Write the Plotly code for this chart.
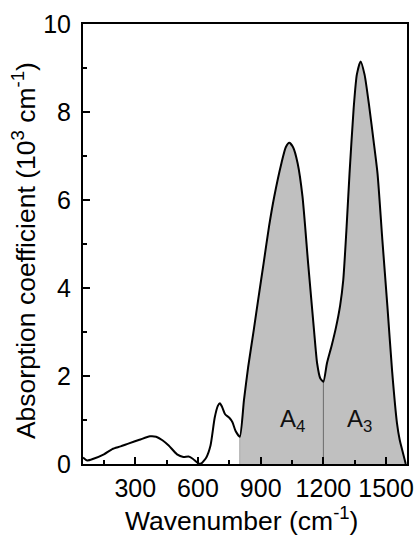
import plotly.graph_objects as go

wavenumber = [50, 70, 100, 150, 190, 230, 270, 320, 370, 400, 430, 460, 500, 530, 555, 575,
              600, 615, 640, 660, 680, 695, 705, 715, 730, 750, 765, 780, 800, 820, 840, 867,
              890, 914, 940, 965, 999, 1020, 1037, 1055, 1077, 1100, 1127, 1155, 1170, 1185,
              1200, 1217, 1240, 1260, 1280, 1295, 1310, 1325, 1345, 1360, 1378, 1397, 1420,
              1440, 1459, 1482, 1506, 1529, 1552, 1565, 1578, 1594]
absorption = [0.15, 0.08, 0.12, 0.22, 0.34, 0.40, 0.47, 0.55, 0.63, 0.62, 0.54, 0.42, 0.22,
              0.16, 0.17, 0.12, 0.02, 0.01, 0.15, 0.42, 1.05, 1.32, 1.38, 1.30, 1.13, 1.05,
              0.95, 0.75, 0.62, 1.45, 2.2, 3.05, 3.8, 4.56, 5.4, 6.08, 6.83, 7.2, 7.30, 7.2,
              6.83, 6.08, 4.56, 3.05, 2.29, 1.95, 1.87, 2.29, 2.7, 3.1, 3.6, 4.18, 5.3, 6.6,
              8.1, 8.85, 9.15, 8.85, 8.1, 7.35, 6.6, 5.1, 3.6, 2.1, 0.93, 0.55, 0.3, 0.0]

area_start = 800
area_split = 1200
labels = ["A<sub>4</sub>", "A<sub>3</sub>"]
label_x = [1052, 1373]
label_y = [1.0, 1.0]

x_ticks = [300, 600, 900, 1200, 1500]

FONT = "Liberation Sans, Arial, sans-serif"

fill_x = [w for w in wavenumber if w >= area_start]
fill_y = [a for w, a in zip(wavenumber, absorption) if w >= area_start]
split_val = absorption[wavenumber.index(area_split)]

fig = go.Figure()
fig.add_trace(go.Scatter(x=fill_x, y=fill_y, mode="lines", fill="tozeroy",
                         fillcolor="#c0c0c0", line=dict(color="#c0c0c0", width=0, shape="spline", smoothing=0.6),
                         hoverinfo="skip", showlegend=False))
fig.add_trace(go.Scatter(x=[area_start, area_start], y=[0, absorption[wavenumber.index(area_start)]],
                         mode="lines", line=dict(color="#a8a8a8", width=1), showlegend=False))
fig.add_trace(go.Scatter(x=[area_split, area_split], y=[0, split_val],
                         mode="lines", line=dict(color="#6a6a6a", width=1), showlegend=False))
fig.add_trace(go.Scatter(x=wavenumber, y=absorption, mode="lines",
                         line=dict(color="black", width=2, shape="spline", smoothing=0.6),
                         showlegend=False))

for t, xx, yy in zip(labels, label_x, label_y):
    fig.add_annotation(x=xx, y=yy, text=t, showarrow=False,
                       font=dict(family=FONT, size=24, color="#111111"))

# axis titles as annotations for precise placement
fig.add_annotation(xref="paper", yref="paper", x=-0.125, y=0.485,
                   xanchor="right", yanchor="middle", textangle=-90, showarrow=False,
                   text="Absorption coefficient (10<sup>3</sup> cm<sup>-1</sup>)",
                   font=dict(family=FONT, size=26.5, color="black"))
fig.add_annotation(xref="paper", yref="paper", x=0.488, y=-0.168,
                   xanchor="center", yanchor="bottom", showarrow=False,
                   text="Wavenumber (cm<sup>-1</sup>)",
                   font=dict(family=FONT, size=26.5, color="black"))

axis_common = dict(showline=True, linecolor="black", linewidth=2, mirror=True,
                   ticks="inside", tickcolor="black", tickwidth=2, ticklen=7,
                   showgrid=False, zeroline=False,
                   tickfont=dict(family=FONT, size=25, color="black"))

fig.update_xaxes(range=[50, 1600], tickvals=x_ticks, ticklabelstandoff=1,
                 minor=dict(ticks="inside", dtick=150, tick0=0, ticklen=4, tickwidth=2, tickcolor="black"),
                 **axis_common)
fig.update_yaxes(range=[0, 10], dtick=2, tick0=0, ticklabelstandoff=5,
                 minor=dict(ticks="inside", dtick=1, tick0=0, ticklen=4, tickwidth=2, tickcolor="black"),
                 **axis_common)

fig.update_layout(width=420, height=538, margin=dict(l=83, r=6, t=24, b=74),
                  paper_bgcolor="white", plot_bgcolor="white", showlegend=False)

fig.write_html("out.html")
